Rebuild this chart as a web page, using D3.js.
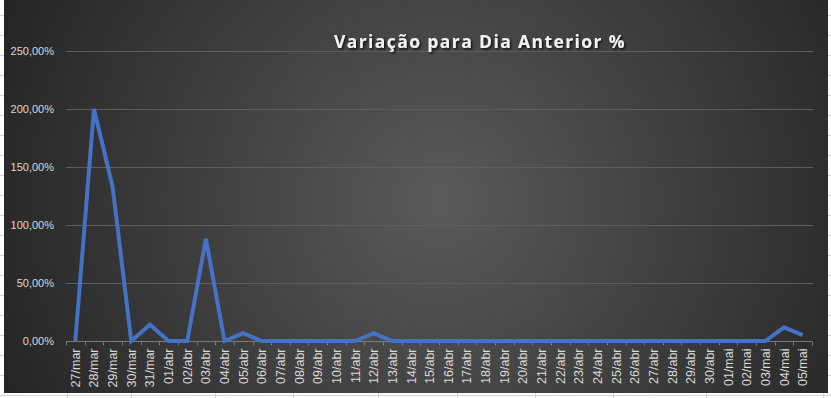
<html>
<head>
    <title>Variação para Dia Anterior %</title>
    <style>
        body { margin: 0; background: #ffffff; }
        svg { display: block; }
    </style>
</head>
<body>
    <svg width="831" height="398"></svg>

    <script src="https://cdnjs.cloudflare.com/ajax/libs/d3/7.8.5/d3.min.js"></script>
    <script>
        // dias do eixo x
        const dias = [
            "27/mar", "28/mar", "29/mar", "30/mar", "31/mar",
            "01/abr", "02/abr", "03/abr", "04/abr", "05/abr", "06/abr", "07/abr", "08/abr", "09/abr", "10/abr",
            "11/abr", "12/abr", "13/abr", "14/abr", "15/abr", "16/abr", "17/abr", "18/abr", "19/abr", "20/abr",
            "21/abr", "22/abr", "23/abr", "24/abr", "25/abr", "26/abr", "27/abr", "28/abr", "29/abr", "30/abr",
            "01/mai", "02/mai", "03/mai", "04/mai", "05/mai"
        ];
        // variação em % sobre o dia anterior
        const variacao = [
            0, 200, 133, 0, 14,
            0, 0, 88, 0, 6.7, 0, 0, 0, 0, 0,
            0, 6.7, 0, 0, 0, 0, 0, 0, 0, 0,
            0, 0, 0, 0, 0, 0, 0, 0, 0, 0,
            0, 0, 0, 11.8, 5
        ];
        const yTicks = [0, 50, 100, 150, 200, 250];
        const titulo = "Variação para Dia Anterior %";

        const svg = d3.select("svg");

        // fundo de planilha por trás do gráfico
        const sheet = svg.append("g").attr("stroke", "#d4d4d4").attr("stroke-width", 1);
        d3.range(15, 398, 20).forEach(y => {
            sheet.append("line").attr("x1", 0).attr("x2", 4).attr("y1", y + 0.5).attr("y2", y + 0.5);
            sheet.append("line").attr("x1", 827).attr("x2", 831).attr("y1", y + 0.5).attr("y2", y + 0.5);
        });
        sheet.append("line").attr("x1", 0).attr("x2", 831).attr("y1", 395.5).attr("y2", 395.5);
        [67, 131, 215, 293, 378, 457, 535, 613, 706, 823].forEach(x => {
            sheet.append("line").attr("x1", x + 0.5).attr("x2", x + 0.5).attr("y1", 393).attr("y2", 398);
        });

        const defs = svg.append("defs");
        const grad = defs.append("radialGradient")
            .attr("id", "bg")
            .attr("gradientUnits", "userSpaceOnUse")
            .attr("cx", 440).attr("cy", 200).attr("r", 480);
        grad.append("stop").attr("offset", "0%").attr("stop-color", "#5a5a5a");
        grad.append("stop").attr("offset", "100%").attr("stop-color", "#242424");

        const shadow = defs.append("filter").attr("id", "sombra")
            .attr("x", "-10%").attr("y", "-30%").attr("width", "120%").attr("height", "160%");
        shadow.append("feDropShadow")
            .attr("dx", 1.5).attr("dy", 1.5).attr("stdDeviation", 1.2)
            .attr("flood-color", "#000").attr("flood-opacity", 0.8);

        svg.append("rect")
            .attr("x", 4).attr("y", 0)
            .attr("width", 824).attr("height", 393)
            .attr("fill", "url(#bg)");

        const margin = { left: 66, right: 813, top: 51, bottom: 341 };

        const x = d3.scaleBand().domain(dias).range([margin.left, 812]);
        const y = d3.scaleLinear().domain([0, 250]).range([margin.bottom, margin.top]);

        // linhas de grade
        svg.append("g")
            .selectAll("line")
            .data(yTicks.filter(d => d > 0))
            .join("line")
            .attr("x1", margin.left).attr("x2", margin.right)
            .attr("y1", d => Math.round(y(d)) + 0.5).attr("y2", d => Math.round(y(d)) + 0.5)
            .attr("stroke", "#5e5e5e").attr("stroke-width", 1);

        // eixo y (só rótulos)
        const fmt = d => d3.format(".2f")(d).replace(".", ",") + "%";
        svg.append("g")
            .selectAll("text")
            .data(yTicks)
            .join("text")
            .attr("x", 54)
            .attr("y", d => y(d))
            .attr("dy", "0.35em")
            .attr("text-anchor", "end")
            .attr("fill", "#d9d9d9")
            .style("font", "11px 'Liberation Sans', sans-serif")
            .text(fmt);

        // eixo x
        const xAxis = svg.append("g")
            .attr("transform", "translate(0," + (margin.bottom + 0.5) + ")");
        xAxis.append("line")
            .attr("x1", margin.left).attr("x2", 812)
            .attr("stroke", "#7a7a7a");
        xAxis.selectAll(".tick")
            .data(dias.concat([null]))
            .join("line")
            .attr("class", "tick")
            .attr("x1", (d, i) => Math.round(margin.left + i * x.step()) + 0.5)
            .attr("x2", (d, i) => Math.round(margin.left + i * x.step()) + 0.5)
            .attr("y1", 0).attr("y2", 4)
            .attr("stroke", "#7a7a7a");
        xAxis.selectAll(".lbl")
            .data(dias)
            .join("text")
            .attr("class", "lbl")
            .attr("transform", d => "translate(" + (x(d) + x.bandwidth() / 2 + 4.5) + ",7) rotate(-90)")
            .attr("text-anchor", "end")
            .attr("fill", "#d9d9d9")
            .style("font", "12.5px 'Liberation Sans', sans-serif")
            .text(d => d);

        // série
        const line = d3.line()
            .x((d, i) => x(dias[i]) + x.bandwidth() / 2)
            .y(d => y(d));
        svg.append("path")
            .datum(variacao)
            .attr("d", line)
            .attr("fill", "none")
            .attr("stroke", "#4472c4")
            .attr("stroke-width", 4)
            .attr("stroke-linejoin", "miter");

        // título
        svg.append("text")
            .attr("x", 480).attr("y", 48)
            .attr("text-anchor", "middle")
            .attr("fill", "#f2f2f2")
            .attr("filter", "url(#sombra)")
            .style("font", "bold 17.5px 'Open Sans', sans-serif")
            .style("letter-spacing", "1.4px")
            .text(titulo);
    </script>
</body>
</html>
